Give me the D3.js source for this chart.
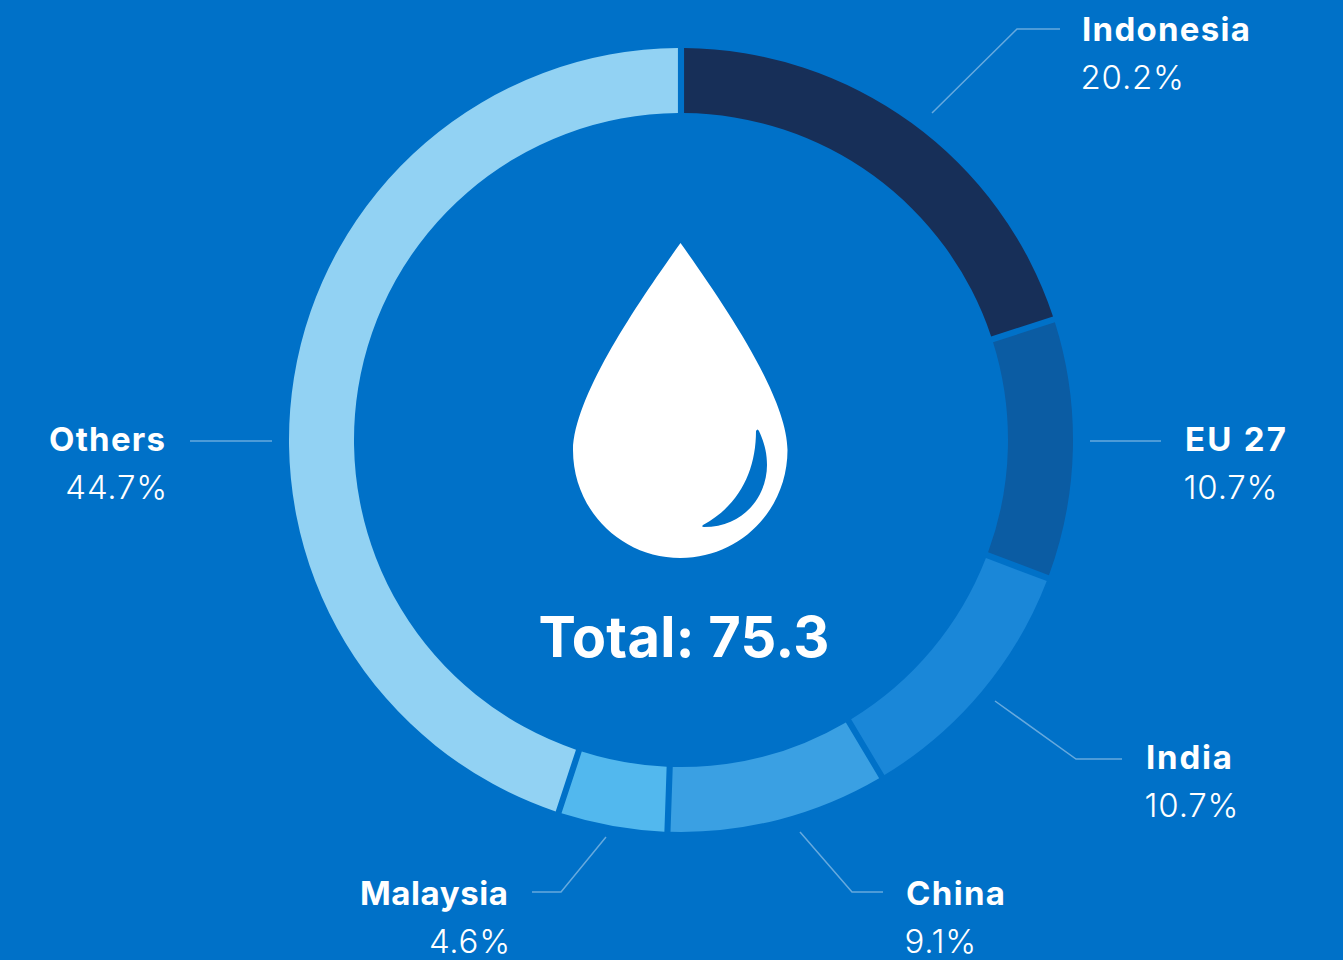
<!DOCTYPE html>
<html>
<head>
<meta charset="utf-8">
<style>
    html, body { margin: 0; padding: 0; background: #0071c8; overflow: hidden; }
    text { font-family: "Inter", "Open Sans", sans-serif; fill: #fff; }
    .name { font-weight: 700; font-size: 33px; }
    .pct { font-weight: 300; font-size: 33px; letter-spacing: 0.8px; }
    .total { font-weight: 700; font-size: 56px; letter-spacing: 0.3px; }
</style>
<script src="https://cdn.jsdelivr.net/npm/d3@7"></script>
</head>
<body>
<div id="chart"></div>
<script>
const categories = ['Indonesia', 'EU 27', 'India', 'China', 'Malaysia', 'Others'];
// printed labels, and the arc sizes as measured off the ring (they differ slightly)
const shareLabels = ['20.2%', '10.7%', '10.7%', '9.1%', '4.6%', '44.7%'];
const arcShares = [20.0, 10.7, 10.7, 9.1, 4.5, 44.9];
const colors = ['#172f58', '#0b5ca3', '#1a87d8', '#3aa0e3', '#52b8ee', '#92d2f3'];
const totalLabel = 'Total: 75.3';

const width = 1343, height = 960;

// label anchors and leader lines, by hand from the picture
const labelX = [1082, 1185, 1146, 906, 508, 165];
const labelY = [41, 451, 769, 905, 905, 451];
const labelAnchor = ['start', 'start', 'start', 'start', 'end', 'end'];
const nameWidth = [168, 101, 86, 99, 148, 116];
const leaders = [
    [[932, 113], [1017, 29], [1060, 29]],
    [[1090, 441], [1161, 441]],
    [[995, 701], [1076, 759], [1122, 759]],
    [[800, 832], [852, 892], [883, 892]],
    [[606, 837], [561, 892], [532, 892]],
    [[190, 441], [272, 441]]
];

const dropPath = 'M680.5,243 C640,300 574,395 573,450 C573,510 621,558 680.5,558 ' +
    'C740,558 787.5,510 787.5,450 C787,395 721,300 680.5,243 Z ' +
    'M756,431 C756,470 740,505 703,525 Q701,527 704,527 C745,527 767,495 767,465 ' +
    'C767,450 763,440 759,431 Q757.5,428 756,431 Z';

const svg = d3.select('#chart')
    .append('svg')
    .attr('width', width)
    .attr('height', height);

svg.append('rect')
    .attr('width', width)
    .attr('height', height)
    .attr('fill', '#0071c8');

// pad on the arc, not the pie, so the pie does not stretch the small slices
const pie = d3.pie().sort(null);
const arc = d3.arc().innerRadius(327).outerRadius(392).padAngle(0.012);

svg.append('g')
    .attr('transform', 'translate(681,440)')
    .selectAll('path')
    .data(pie(arcShares))
    .join('path')
    .attr('d', arc)
    .attr('fill', (d, i) => colors[i]);

svg.append('g')
    .selectAll('path')
    .data(leaders)
    .join('path')
    .attr('d', d3.line())
    .attr('fill', 'none')
    .attr('stroke', '#fff')
    .attr('stroke-opacity', 0.4)
    .attr('stroke-width', 1.5);

const labels = svg.append('g')
    .selectAll('g')
    .data(categories)
    .join('g')
    .attr('transform', (d, i) => 'translate(' + [labelX[i], labelY[i]] + ')')
    .attr('text-anchor', (d, i) => labelAnchor[i]);

labels.append('text')
    .attr('class', 'name')
    .attr('textLength', (d, i) => nameWidth[i])
    .text(d => d);

labels.append('text')
    .attr('class', 'pct')
    .attr('x', (d, i) => labelAnchor[i] === 'end' ? 3 : -1.5)
    .attr('y', 48)
    .text((d, i) => shareLabels[i]);

svg.append('path')
    .attr('d', dropPath)
    .attr('fill', '#fff')
    .attr('fill-rule', 'evenodd');

svg.append('text')
    .attr('class', 'total')
    .attr('x', 684)
    .attr('y', 657)
    .attr('text-anchor', 'middle')
    .text(totalLabel);
</script>
</body>
</html>
